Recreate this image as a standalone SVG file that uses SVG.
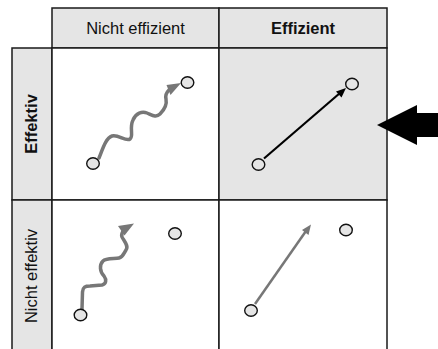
<svg xmlns="http://www.w3.org/2000/svg" width="438" height="349" viewBox="0 0 438 349">
<style>
.cell{stroke:#1a1a1a;stroke-width:1.5}
.g{fill:#e5e5e5}
.w{fill:#ffffff}
.t{font-family:"Liberation Sans",Arial,sans-serif;font-size:16.5px;fill:#111;text-anchor:middle}
.b{font-weight:bold}
.dot{fill:#e5e5e5;stroke:#111;stroke-width:1.4}
.wave{fill:none;stroke:#777;stroke-width:3.5;stroke-linejoin:round;stroke-linecap:round}
.gl{fill:none;stroke:#777;stroke-width:2.5}
.bl{fill:none;stroke:#000;stroke-width:2.2}
</style>
<rect width="438" height="349" fill="#fff"/>
<g id="header-nicht-effizient">
<rect class="cell g" x="52" y="8" width="167" height="40"/>
<text class="t" x="135.5" y="34">Nicht effizient</text>
</g>
<g id="header-effizient">
<rect class="cell g" x="219" y="8" width="168" height="40"/>
<text class="t b" x="303" y="34">Effizient</text>
</g>
<g id="row-effektiv">
<rect class="cell g" x="12" y="48" width="40" height="152"/>
<text class="t b" transform="translate(37,124) rotate(-90)">Effektiv</text>
</g>
<g id="row-nicht-effektiv">
<rect class="cell g" x="12" y="200" width="40" height="152"/>
<text class="t" transform="translate(37,276) rotate(-90)">Nicht effektiv</text>
</g>
<g id="cell-effektiv-nicht-effizient">
<rect class="cell w" x="52" y="48" width="167" height="152"/>
</g>
<g id="cell-effektiv-effizient">
<rect class="cell g" x="219" y="48" width="168" height="152"/>
</g>
<g id="cell-nicht-effektiv-nicht-effizient">
<rect class="cell w" x="52" y="200" width="167" height="152"/>
</g>
<g id="cell-nicht-effektiv-effizient">
<rect class="cell w" x="219" y="200" width="168" height="152"/>
</g>
<g id="connectors">
<path class="wave" d="M99,158 C103,148 106,138 112,136 C118,134 126,142 130,139 C134,136 129,128 133,120 C136,113 142,111 147,113 C152,115 156,118 160,114 C164,110 167,104 166,99 C165,95 167,92 169,90"/>
<polygon fill="#777" points="181,83 166.5,85 170.5,95"/>
<line class="bl" x1="264" y1="158.5" x2="340" y2="93"/>
<polygon fill="#000" points="346,88 336,91.5 341.5,97.5"/>
<path class="wave" d="M82,309 L82.5,292 C83,287 85,286 90,286 L102,285 C106,284 107,280 104,276 C100,272 99,265 103,261 C106,258 115,259 119,258 C123,257 124,253 126,250 C129,246 124,241 122,237 C121,235 122,233 123,231"/>
<polygon fill="#777" points="134,223.5 118,226 124.5,235.5"/>
<line class="gl" x1="255" y1="304" x2="306" y2="231"/>
<polygon fill="#777" points="311,224.5 302,230 308.5,235"/>
</g>
<g id="dots">
<ellipse class="dot" cx="93" cy="163.5" rx="6.3" ry="5.8"/>
<ellipse class="dot" cx="187.5" cy="82.5" rx="6.3" ry="5.8"/>
<ellipse class="dot" cx="258.5" cy="164.5" rx="6.3" ry="5.8"/>
<ellipse class="dot" cx="352" cy="84" rx="6.3" ry="5.8"/>
<ellipse class="dot" cx="80.5" cy="315" rx="6.3" ry="5.8"/>
<ellipse class="dot" cx="175" cy="233.5" rx="6.3" ry="5.8"/>
<ellipse class="dot" cx="251" cy="310.5" rx="6.3" ry="5.8"/>
<ellipse class="dot" cx="346" cy="230" rx="6.3" ry="5.8"/>
</g>
<g id="pointer-arrow">
<polygon fill="#000" points="377,125 417,105 417,113 438,113 438,137 417,137 417,145"/>
</g>
</svg>
